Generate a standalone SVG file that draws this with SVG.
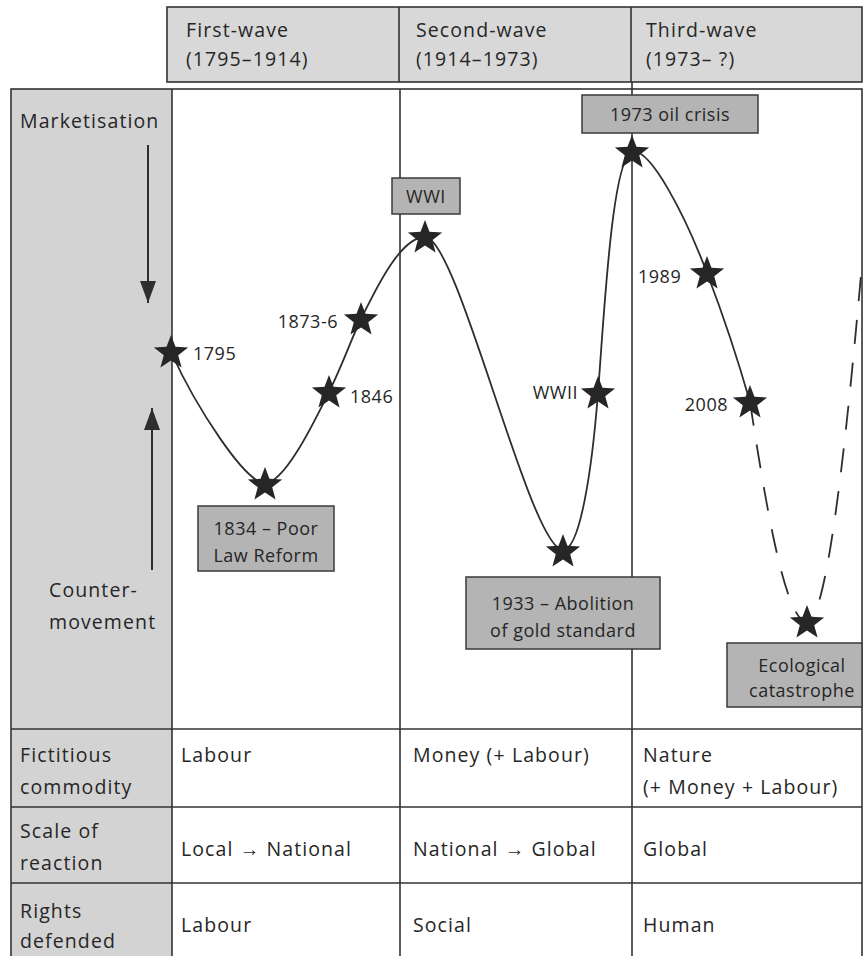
<svg xmlns="http://www.w3.org/2000/svg" width="864" height="956" viewBox="0 0 864 956">
<defs>
<style>
.t{font-family:'Open Sans','Liberation Sans',sans-serif;font-size:19.5px;letter-spacing:1.1px;fill:#262626}
.l{font-family:'Open Sans','Liberation Sans',sans-serif;font-size:18px;letter-spacing:0.5px;fill:#262626}
.m{text-anchor:middle}
.e{text-anchor:end}
.grid{stroke:#333;stroke-width:1.6;fill:none}
.hdr{fill:#d8d8d8;stroke:#333;stroke-width:1.6}
.box{fill:#b4b4b4;stroke:#3a3a3a;stroke-width:1.5}
.curve{fill:none;stroke:#2e2e2e;stroke-width:1.8}
.dash{stroke-dasharray:24 19}
.star{fill:#262626}
.arrow{stroke:#2e2e2e;stroke-width:2;fill:none}
</style>
<path id="star" d="M0,-18 L4.47,-6.16 L17.12,-5.56 L7.23,2.35 L10.58,14.56 L0,7.6 L-10.58,14.56 L-7.23,2.35 L-17.12,-5.56 L-4.47,-6.16 Z"/>
<marker id="ah" viewBox="0 0 22 16" refX="22" refY="8" markerWidth="22" markerHeight="16" markerUnits="userSpaceOnUse" orient="auto">
<path d="M0,0 L22,8 L0,16 Z" fill="#2e2e2e"/>
</marker>
</defs>
<rect width="864" height="956" fill="#ffffff"/>

<!-- header -->
<g id="header">
<rect x="167" y="7" width="695" height="75" class="hdr"/>
<line x1="399" y1="7" x2="399" y2="82" class="grid"/>
<line x1="631" y1="7" x2="631" y2="82" class="grid"/>
<text class="t" x="186" y="37">First-wave</text>
<text class="t" x="186" y="66">(1795–1914)</text>
<text class="t" x="416" y="37">Second-wave</text>
<text class="t" x="416" y="66">(1914–1973)</text>
<text class="t" x="646" y="37">Third-wave</text>
<text class="t" x="646" y="66">(1973– ?)</text>
</g>

<!-- table frame -->
<g id="table">
<rect x="11" y="89" width="161" height="870" fill="#d3d3d3"/>
<rect x="11" y="89" width="851" height="870" class="grid"/>
<line x1="172" y1="89" x2="172" y2="956" class="grid"/>
<line x1="400" y1="89" x2="400" y2="956" class="grid"/>
<line x1="632" y1="82" x2="632" y2="956" class="grid"/>
<line x1="11" y1="729" x2="862" y2="729" class="grid"/>
<line x1="11" y1="807" x2="862" y2="807" class="grid"/>
<line x1="11" y1="883" x2="862" y2="883" class="grid"/>
</g>

<g id="axis">
<text class="t" x="20" y="128">Marketisation</text>
<line x1="148" y1="145" x2="148" y2="303" class="arrow" marker-end="url(#ah)"/>
<line x1="152" y1="570" x2="152" y2="408" class="arrow" marker-end="url(#ah)"/>
<text class="t" x="49" y="597">Counter-</text>
<text class="t" x="49" y="629">movement</text>
</g>

<g id="rows">
<text class="t" x="20" y="762">Fictitious</text>
<text class="t" x="20" y="794">commodity</text>
<text class="t" x="181" y="762">Labour</text>
<text class="t" x="413" y="762">Money (+ Labour)</text>
<text class="t" x="643" y="762">Nature</text>
<text class="t" x="643" y="794">(+ Money + Labour)</text>
<text class="t" x="20" y="838">Scale of</text>
<text class="t" x="20" y="870">reaction</text>
<text class="t" x="181" y="856">Local → National</text>
<text class="t" x="413" y="856">National → Global</text>
<text class="t" x="643" y="856">Global</text>
<text class="t" x="20" y="918">Rights</text>
<text class="t" x="20" y="948">defended</text>
<text class="t" x="181" y="932">Labour</text>
<text class="t" x="413" y="932">Social</text>
<text class="t" x="643" y="932">Human</text>
</g>

<!-- connectors -->
<g id="connectors">
<path class="curve" d="M171,352 C196,407 245,483 265,483 C285,483 315,420 329,392 C343,364 352,337 361,319 C375,291 400,237 425,237 C458,237 530,550 563,550 C580,550 592,470 598,393 C604,316 612,158 632,152 C650,147 685,215 707,273 C722,312 738,360 750,402"/>
<path class="curve dash" d="M750,402 C765,500 785,622 807,622 C828,622 848,420 861,275"/>
</g>

<!-- nodes -->
<g id="n1795"><use href="#star" class="star" x="171" y="353"/><text class="l" x="193" y="360">1795</text></g>
<g id="n1834"><use href="#star" class="star" x="265" y="485"/>
<rect x="198" y="506" width="136" height="65" class="box"/>
<text class="l m" x="266" y="535">1834 – Poor</text>
<text class="l m" x="266" y="562">Law Reform</text></g>
<g id="n1846"><use href="#star" class="star" x="329" y="393"/><text class="l" x="350" y="403">1846</text></g>
<g id="n1873"><use href="#star" class="star" x="361" y="320"/><text class="l e" x="338" y="328">1873-6</text></g>
<g id="nWWI"><rect x="392" y="178" width="68" height="36" class="box"/>
<text class="l m" x="426" y="203">WWI</text>
<use href="#star" class="star" x="425" y="238"/></g>
<g id="n1933"><use href="#star" class="star" x="563" y="552"/>
<rect x="466" y="577" width="194" height="72" class="box"/>
<text class="l m" x="563" y="610">1933 – Abolition</text>
<text class="l m" x="563" y="637">of gold standard</text></g>
<g id="nWWII"><use href="#star" class="star" x="598" y="394"/><text class="l e" x="578" y="399">WWII</text></g>
<g id="n1973"><rect x="582" y="95" width="176" height="38" class="box"/>
<text class="l m" x="670" y="121">1973 oil crisis</text>
<use href="#star" class="star" x="632" y="153"/></g>
<g id="n1989"><use href="#star" class="star" x="707" y="274"/><text class="l" x="638" y="283">1989</text></g>
<g id="n2008"><use href="#star" class="star" x="750" y="403"/><text class="l e" x="728" y="411">2008</text></g>
<g id="nEco"><use href="#star" class="star" x="807" y="623"/>
<rect x="727" y="643" width="135" height="64" class="box"/>
<text class="l m" x="802" y="672">Ecological</text>
<text class="l m" x="802" y="697">catastrophe</text></g>
</svg>
